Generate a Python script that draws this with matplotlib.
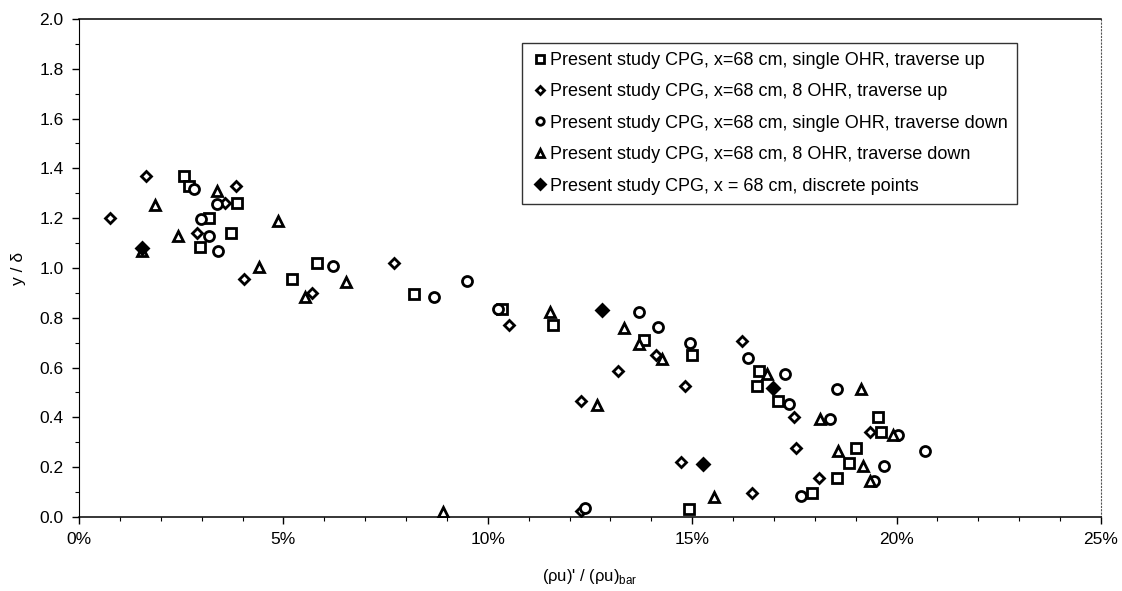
import matplotlib
matplotlib.use("Agg")
import matplotlib.pyplot as plt
from matplotlib.ticker import MultipleLocator, FuncFormatter

plt.rcParams['font.family'] = ['Liberation Sans', 'DejaVu Sans']
plt.rcParams['mathtext.fontset'] = 'custom'
plt.rcParams['mathtext.rm'] = 'Liberation Sans'

# Series: x in percent, y = y/delta
sq_x = [2.57, 2.69, 3.18, 3.87, 3.72, 2.97, 5.22, 5.81, 8.19, 10.35, 11.6, 13.81, 15.0,
        16.63, 16.59, 17.1, 19.54, 19.62, 19.01, 18.83, 18.55, 17.93, 14.92]
sq_y = [1.37, 1.33, 1.20, 1.262, 1.14, 1.083, 0.957, 1.019, 0.896, 0.834, 0.771, 0.711, 0.651,
        0.586, 0.526, 0.467, 0.40, 0.34, 0.278, 0.218, 0.155, 0.095, 0.032]

dm_x = [0.76, 1.64, 3.85, 3.57, 2.88, 4.04, 5.7, 7.70, 10.51, 13.19, 14.12, 12.27, 14.83,
        16.23, 17.49, 17.54, 19.34, 18.1, 16.46, 14.73, 12.29]
dm_y = [1.20, 1.37, 1.33, 1.26, 1.14, 0.957, 0.898, 1.019, 0.771, 0.586, 0.651, 0.466, 0.526,
        0.708, 0.403, 0.278, 0.34, 0.155, 0.095, 0.22, 0.025]

ci_x = [2.82, 3.37, 2.99, 3.19, 3.4, 6.22, 8.69, 9.5, 10.25, 13.7, 14.16, 14.94, 16.37,
        17.27, 17.37, 18.38, 18.55, 20.03, 20.69, 19.68, 19.45, 17.65, 12.37]
ci_y = [1.316, 1.256, 1.195, 1.13, 1.07, 1.008, 0.885, 0.948, 0.834, 0.822, 0.764, 0.70, 0.637,
        0.574, 0.453, 0.393, 0.514, 0.329, 0.266, 0.206, 0.145, 0.084, 0.035]

tr_x = [3.37, 1.87, 4.87, 2.42, 1.53, 4.4, 6.52, 5.53, 11.53, 13.33, 13.7, 14.27, 12.67,
        16.84, 18.12, 19.13, 19.91, 18.57, 19.18, 19.35, 15.53, 8.91]
tr_y = [1.31, 1.253, 1.19, 1.128, 1.07, 1.005, 0.944, 0.885, 0.822, 0.76, 0.695, 0.635, 0.45,
        0.574, 0.392, 0.513, 0.329, 0.265, 0.206, 0.145, 0.081, 0.021]

fd_x = [1.53, 12.8, 16.97, 15.26]
fd_y = [1.08, 0.831, 0.517, 0.212]

labels = [
    "Present study CPG, x=68 cm, single OHR, traverse up",
    "Present study CPG, x=68 cm, 8 OHR, traverse up",
    "Present study CPG, x=68 cm, single OHR, traverse down",
    "Present study CPG, x=68 cm, 8 OHR, traverse down",
    "Present study CPG, x = 68 cm, discrete points",
]

fig = plt.figure(figsize=(11.22, 5.91), dpi=100)
ax = fig.add_axes([0.0704, 0.1252, 0.9109, 0.8427])

common = dict(linestyle='none', markeredgecolor='black', markeredgewidth=2.0)
ax.plot([v / 100 for v in sq_x], sq_y, marker='s', markersize=6.8, markerfacecolor='white', label=labels[0], **common)
ax.plot([v / 100 for v in dm_x], dm_y, marker='D', markersize=5.2, markerfacecolor='white', label=labels[1], **common)
ax.plot([v / 100 for v in ci_x], ci_y, marker='o', markersize=7.2, markerfacecolor='white', label=labels[2], **common)
ax.plot([v / 100 for v in tr_x], tr_y, marker='^', markersize=7.8, markerfacecolor='white', label=labels[3], **common)
ax.plot([v / 100 for v in fd_x], fd_y, marker='D', markersize=6.5, markerfacecolor='black', label=labels[4], **common)

ax.set_xlim(0, 0.25)
ax.set_ylim(0, 2.0)
ax.xaxis.set_major_locator(MultipleLocator(0.05))
ax.xaxis.set_minor_locator(MultipleLocator(0.01))
ax.yaxis.set_major_locator(MultipleLocator(0.2))
ax.yaxis.set_minor_locator(MultipleLocator(0.1))
ax.xaxis.set_major_formatter(FuncFormatter(lambda v, p: f"{v * 100:.0f}%"))
ax.yaxis.set_major_formatter(FuncFormatter(lambda v, p: f"{v:.1f}"))
ax.tick_params(axis='both', which='major', direction='out', length=5, width=1, labelsize=12.5, pad=6)
ax.tick_params(axis='both', which='minor', direction='out', length=3, width=0.8)

for s in ['left', 'bottom', 'top']:
    ax.spines[s].set_color('black')
    ax.spines[s].set_linewidth(1.1)
ax.spines['left'].set_linewidth(0.8)
ax.spines['right'].set_color('#555555')
ax.spines['right'].set_linestyle((0, (1, 2)))
ax.spines['right'].set_linewidth(0.8)

ax.set_xlabel(r"(ρu)' / (ρu)$_{\mathrm{bar}}$", fontsize=12, labelpad=14)
ax.set_ylabel("y / δ", fontsize=12.5, labelpad=10)

leg = ax.legend(loc='upper right', bbox_to_anchor=(0.918, 0.952), fontsize=13, frameon=True,
                fancybox=False, edgecolor='black', handletextpad=0.1, handlelength=1.0,
                markerscale=0.75, labelspacing=0.8, borderpad=0.5, borderaxespad=0.0)
leg.get_frame().set_linewidth(1.0)

fig.savefig("out.png", dpi=100)
